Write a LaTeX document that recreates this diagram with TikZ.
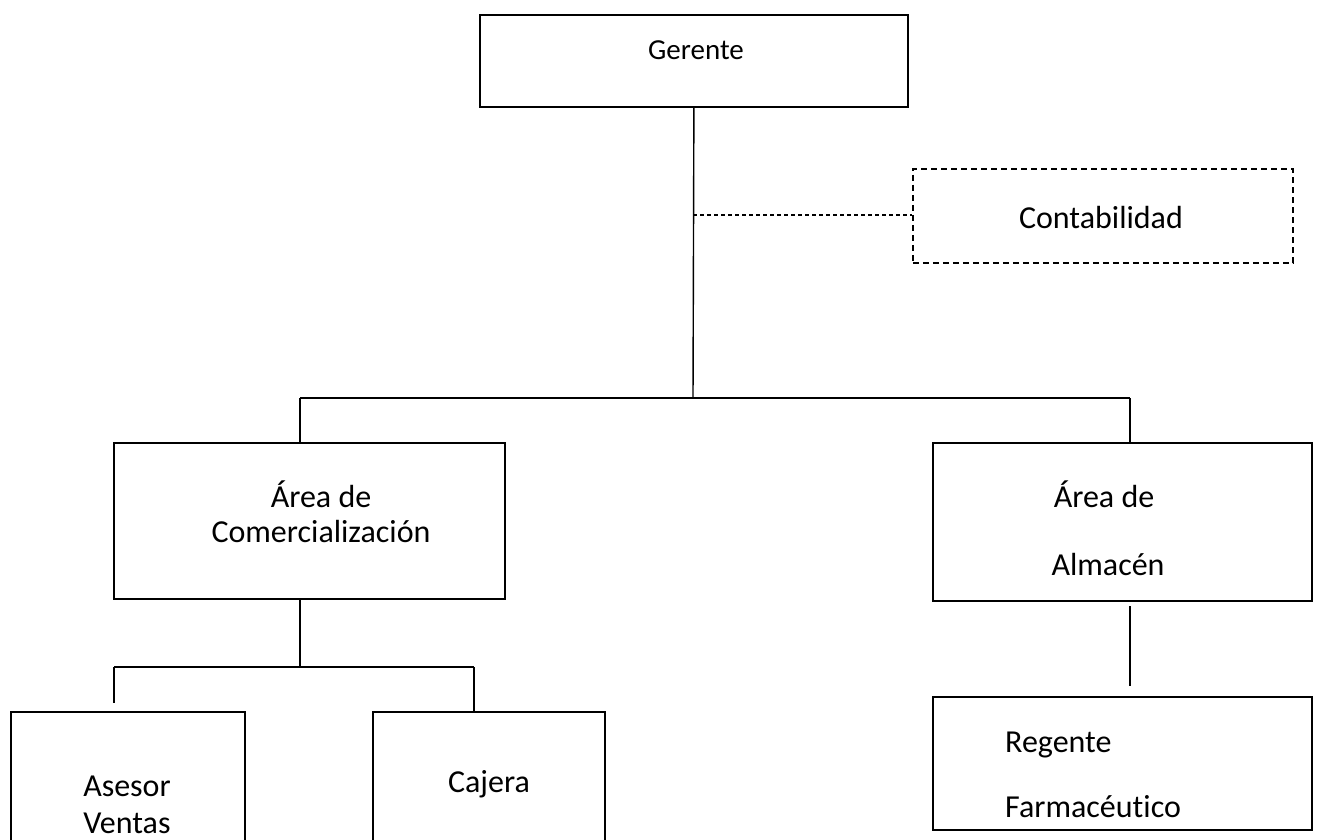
\documentclass[tikz,border=0pt]{standalone}
\usepackage{fontspec}
\setmainfont{Carlito}[Ligatures=NoCommon]
\begin{document}
\begin{tikzpicture}[x=1pt,y=-1pt,
  box/.style={draw,line width=1.8pt,anchor=north west,inner sep=0pt},
  dbox/.style={box,dashed,line width=1.5pt,dash pattern=on 6pt off 4pt},
  conn/.style={line width=1.4pt},
  big/.style={font=\fontsize{32}{38}\selectfont,inner sep=0pt},
  small/.style={font=\fontsize{29}{35}\selectfont,inner sep=0pt}]
\useasboundingbox (0,0) rectangle (1319,840);
% boxes
\node[box,minimum width=428pt,minimum height=92pt] (ger) at (479,14) {};
\node[dbox,minimum width=380pt,minimum height=94pt] (cont) at (912,168) {};
\node[box,minimum width=391pt,minimum height=156pt] (com) at (113,442) {};
\node[box,minimum width=379pt,minimum height=158pt] (alm) at (932,442) {};
\node[box,minimum width=234pt,minimum height=140pt] (ase) at (10,711) {};
\node[box,minimum width=232pt,minimum height=140pt] (caj) at (372,711) {};
\node[box,minimum width=379pt,minimum height=133pt] (reg) at (932,696) {};
% texts
\node[small] (tger) at (696,50) {Gerente};
\node[big] (tcont) at (1101,218) {Contabilidad};
\node[big] (tcom1) at (321,494) {Área de};
\node[big] (tcom2) at (321,532) {Comercialización};
\node[big] (talm1) at (1104,494) {Área de};
\node[big] (talm2) at (1108,565) {Almacén};
\node[big] (tase1) at (127,786) {Asesor};
\node[big] (tase2) at (127,823) {Ventas};
\node[big] (tcaj) at (489,784) {Cajera};
\node[big,anchor=west] (treg1) at (1005,745) {Regente};
\node[big,anchor=west] (treg2) at (1005,807) {Farmacéutico};
% connectors
\coordinate (j1) at (693,398);
\coordinate (jc) at (693,215);
\coordinate (bl) at (300,398);
\coordinate (br) at (1130,398);
\draw[conn] (ger.south) -- (j1);
\draw[conn,dashed,line width=1.1pt,dash pattern=on 4pt off 3pt] (jc) -- (jc -| cont.west);
\draw[conn,line width=2pt] (bl) -- (br);
\draw[conn] (bl) -- (bl |- com.north);
\draw[conn] (br) -- (br |- alm.north);
\coordinate (c0) at (300,598);
\coordinate (c1) at (300,667);
\coordinate (cl) at (114,667);
\coordinate (cr) at (474,667);
\coordinate (clend) at (114,703);
\draw[conn] (c0) -- (c1);
\draw[conn] (cl) -- (cr);
\draw[conn] (cl) -- (clend);
\draw[conn] (cr) -- (cr |- caj.north);
\coordinate (a1) at (1130,606);
\coordinate (a2) at (1130,686);
\draw[conn] (a1) -- (a2);
\end{tikzpicture}
\end{document}
